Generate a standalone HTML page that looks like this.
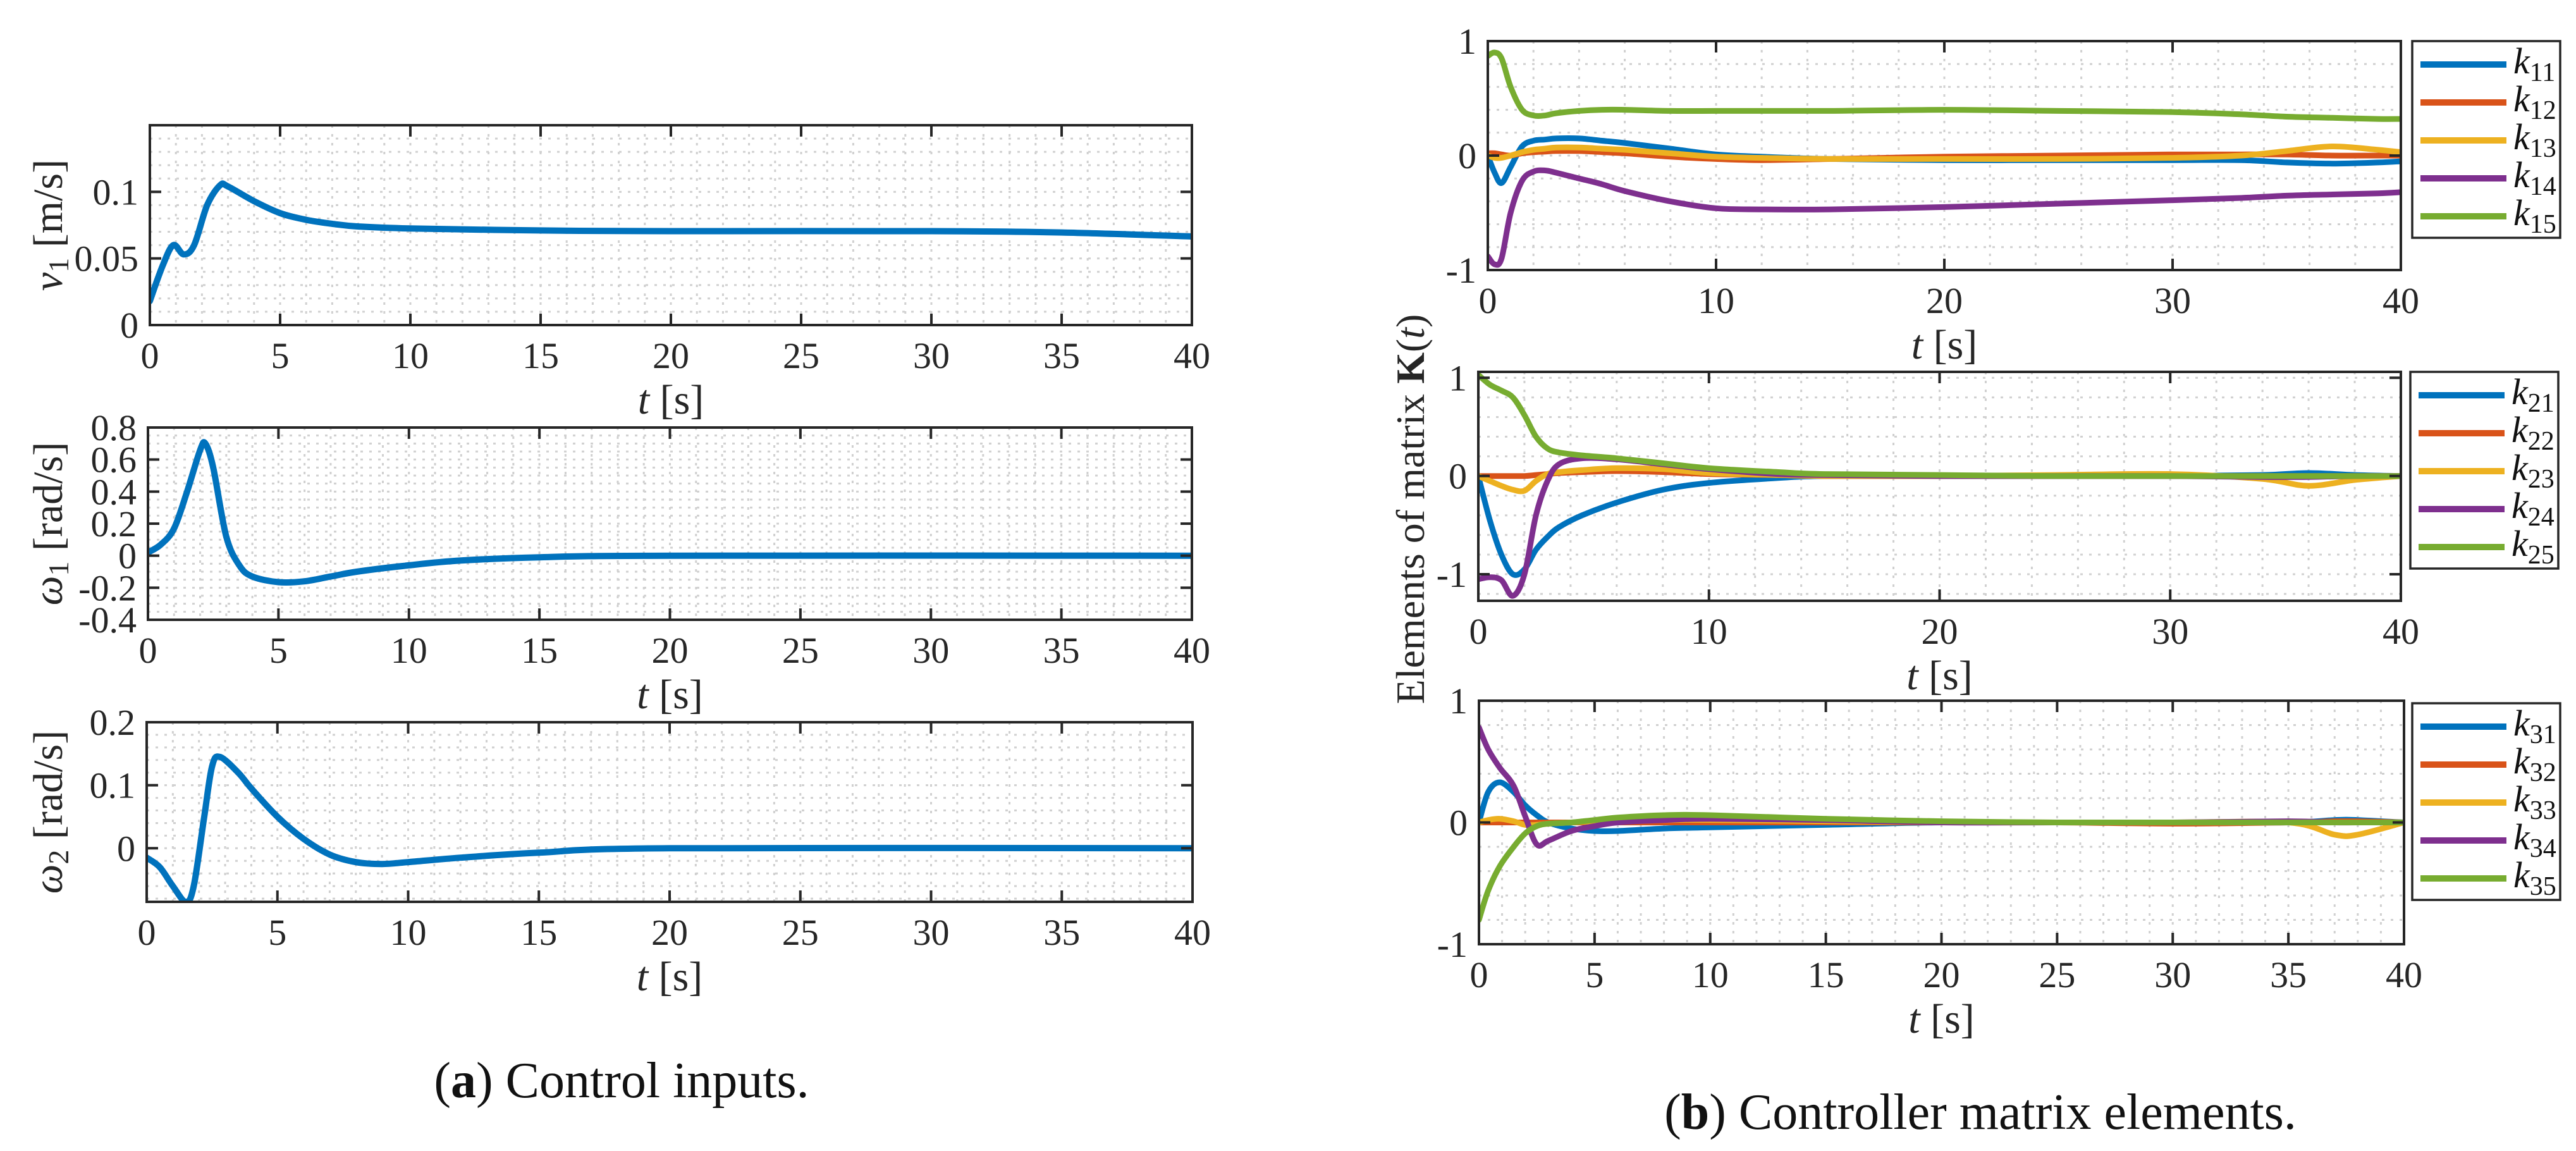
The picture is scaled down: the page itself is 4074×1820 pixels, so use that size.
<!DOCTYPE html>
<html><head><meta charset="utf-8"><style>
html,body{margin:0;padding:0;background:#fff;}
svg{display:block;font-family:"Liberation Serif",serif;}
</style></head><body>
<svg id="fig" width="4074" height="1820" viewBox="0 0 4074 1820" xmlns="http://www.w3.org/2000/svg">
<rect width="4074" height="1820" fill="#fff"/>
<g id="root"></g>
<text x="983" y="1735" font-size="80" text-anchor="middle" fill="#111">(<tspan font-weight="bold">a</tspan>) Control inputs.</text>
<text x="3132" y="1785" font-size="80" text-anchor="middle" fill="#111">(<tspan font-weight="bold">b</tspan>) Controller matrix elements.</text>
<text transform="translate(2252,805) rotate(-90)" font-size="64" text-anchor="middle" fill="#262626">Elements of matrix <tspan font-weight="bold">K</tspan>(<tspan font-style="italic">t</tspan>)</text>
</svg>
<script>
// ---- data ----
const tV1 = [0,0.5,0.9,1.3,1.7,2.2,2.7,3,4,5,6,7,8,10,15,20,30,35,40];
const v1 = [0.018,0.045,0.06,0.053,0.06,0.09,0.105,0.104,0.093,0.084,0.079,0.076,0.074,0.0725,0.071,0.0705,0.0705,0.0695,0.0665];
const tW1 = [0,0.5,1,1.5,2,2.2,2.5,3,3.5,4,5,6,7,8,10,12,15,20,40];
const w1 = [0.02,0.07,0.17,0.4,0.66,0.7,0.55,0.12,-0.06,-0.13,-0.165,-0.16,-0.13,-0.1,-0.06,-0.03,-0.01,0,0];
const tW2 = [0,0.5,1,1.5,1.8,2.2,2.5,2.8,3.5,4,5,6,7,8,9,10,12,15,20,40];
const w2 = [-0.015,-0.03,-0.06,-0.085,-0.06,0.05,0.13,0.145,0.12,0.095,0.05,0.015,-0.01,-0.022,-0.025,-0.022,-0.015,-0.007,0,0];

const tK = [0,0.3,0.6,1,1.5,2,2.5,3,4,5,6,8,10,12,15,20,25,30,33,35,37,39,40];
const k11 = [0,-0.15,-0.24,-0.1,0.08,0.13,0.14,0.15,0.15,0.13,0.11,0.06,0.01,-0.01,-0.03,-0.04,-0.04,-0.04,-0.04,-0.06,-0.07,-0.06,-0.05];
const k12 = [0.02,0.02,0.01,0.0,0.02,0.03,0.035,0.04,0.04,0.03,0.02,-0.01,-0.03,-0.04,-0.03,-0.01,0,0.01,0.01,0.01,0.0,0.0,0.0];
const k13 = [0,-0.02,-0.02,0.0,0.03,0.05,0.06,0.07,0.07,0.06,0.05,0.02,-0.01,-0.02,-0.03,-0.03,-0.03,-0.02,0.0,0.04,0.08,0.05,0.03];
const k14 = [-0.88,-0.95,-0.9,-0.5,-0.22,-0.14,-0.13,-0.15,-0.2,-0.25,-0.31,-0.4,-0.46,-0.47,-0.47,-0.45,-0.42,-0.39,-0.37,-0.35,-0.34,-0.33,-0.32];
const k15 = [0.87,0.9,0.85,0.6,0.4,0.35,0.35,0.37,0.39,0.4,0.4,0.39,0.39,0.39,0.39,0.4,0.39,0.38,0.36,0.34,0.33,0.32,0.32];

const tK2 = [0,0.5,1,1.5,2,2.5,3,3.5,4.5,6,8,10,13,15,20,25,30,34,36,38,40];
const k21 = [0,-0.45,-0.8,-1.0,-0.95,-0.75,-0.62,-0.52,-0.4,-0.27,-0.14,-0.07,-0.02,0,0,0,0,0.01,0.03,0.01,0];
const k22 = [0,0,0,0,0,0.01,0.02,0.03,0.04,0.05,0.04,0.02,0.01,0,0,0,0,0,0,0,0];
const k23 = [0,-0.05,-0.1,-0.14,-0.15,-0.05,0.02,0.04,0.06,0.08,0.07,0.03,0.01,0,0,0.01,0.02,-0.03,-0.1,-0.04,0];
const k24 = [-1.05,-1.03,-1.06,-1.22,-1.0,-0.4,-0.05,0.12,0.18,0.17,0.12,0.07,0.02,0.01,0,0,0,-0.01,-0.01,0,0];
const k25 = [1.03,0.93,0.87,0.8,0.62,0.4,0.28,0.24,0.21,0.18,0.13,0.08,0.04,0.02,0.01,0,0,0,0,0,0];

const tK3 = [0,0.4,0.9,1.5,2,2.5,3,4,5,6,8,10,15,20,25,30,35,37,38,40];
const k31 = [0,0.25,0.33,0.25,0.14,0.06,0.0,-0.05,-0.07,-0.07,-0.05,-0.04,-0.02,0,0,0,0,0.02,0.02,0];
const k32 = [0,0,0,0,0,0,0,0,0,0,0,0,0,0,0,-0.01,0,0.01,0.01,0];
const k33 = [0,0.02,0.03,0.01,-0.02,-0.02,-0.01,0,0.01,0.01,0.02,0.02,0.01,0,0,0,0,-0.1,-0.1,0];
const k34 = [0.78,0.6,0.45,0.3,0.05,-0.18,-0.15,-0.07,-0.03,0,0.02,0.03,0.02,0,0,0,0.01,0,0,0];
const k35 = [-0.8,-0.56,-0.36,-0.2,-0.09,-0.03,-0.01,0.0,0.02,0.04,0.06,0.06,0.03,0.01,0,0,0,0,0,0];

const ticksX8 = [0,5,10,15,20,25,30,35,40];
const ticksX4 = [0,10,20,30,40];
const ticksYv1 = [0,0.05,0.1];
const ticksYw1 = [-0.4,-0.2,0,0.2,0.4,0.6,0.8];
const ticksYw2 = [0,0.1,0.2];
const ticksYK = [-1,0,1];

const C = ['#0072BD','#D95319','#EDB120','#7E2F8E','#77AC30'];
const NS = 'http://www.w3.org/2000/svg';
const root = document.getElementById('root');
function mk(tag, attrs, parent){const e=document.createElementNS(NS,tag);for(const k in attrs)e.setAttribute(k,attrs[k]);(parent||root).appendChild(e);return e;}
function smoothPath(pts){
  let d='M'+pts[0][0].toFixed(1)+','+pts[0][1].toFixed(1);
  for(let i=0;i<pts.length-1;i++){
    const p0=pts[Math.max(0,i-1)],p1=pts[i],p2=pts[i+1],p3=pts[Math.min(pts.length-1,i+2)];
    const c1=[p1[0]+(p2[0]-p0[0])/6,p1[1]+(p2[1]-p0[1])/6];
    const c2=[p2[0]-(p3[0]-p1[0])/6,p2[1]-(p3[1]-p1[1])/6];
    d+=' C'+c1[0].toFixed(1)+','+c1[1].toFixed(1)+' '+c2[0].toFixed(1)+','+c2[1].toFixed(1)+' '+p2[0].toFixed(1)+','+p2[1].toFixed(1);
  }
  return d;
}
function fmt(v){return v<0?'-'+String(-v):String(v);}
function axes(o){
  const g=mk('g',{});
  
  
  const X=t=>o.L+(t-0)/(40)*(o.R-o.L);
  const Y=v=>o.B-(v-o.ymin)/(o.ymax-o.ymin)*(o.B-o.T);
  const grid=mk('g',{stroke:'#d0d0d0','stroke-width':3,'stroke-dasharray':'4 10',fill:'none'},g);
  
  
  for(let t=o.xminor;t<40-1e-9;t+=o.xminor) mk('line',{x1:X(t),x2:X(t),y1:o.T,y2:o.B},grid);
  const s0=Math.ceil((o.ymin+1e-9)/o.yminor);
  for(let k=s0;k*o.yminor<o.ymax-1e-9;k++){const v=k*o.yminor;mk('line',{x1:o.L,x2:o.R,y1:Y(v),y2:Y(v)},grid);}
  const clipId='c'+o.name;
  const cp=mk('clipPath',{id:clipId},g);mk('rect',{x:o.L,y:o.T-2,width:o.R-o.L,height:o.B-o.T+4},cp);
  const lines=mk('g',{'clip-path':'url(#'+clipId+')'},g);
  o.series.forEach((s,i)=>{
    const pts=s.t.map((t,j)=>[X(t),Y(s.v[j])]);
    const p=mk('path',{d:smoothPath(pts),stroke:s.c,'stroke-width':o.lw||10,fill:'none','stroke-linejoin':'round','stroke-linecap':'round'},lines);
    
    
  });
  const fr=mk('rect',{x:o.L,y:o.T,width:o.R-o.L,height:o.B-o.T,fill:'none',stroke:'#262626','stroke-width':4},g);
  
  
  const tl=18;
  o.xticks.forEach(t=>{
    mk('line',{x1:X(t),x2:X(t),y1:o.B,y2:o.B-tl,stroke:'#262626','stroke-width':4},g);
    mk('line',{x1:X(t),x2:X(t),y1:o.T,y2:o.T+tl,stroke:'#262626','stroke-width':4},g);
    const tx=mk('text',{x:X(t),y:o.B+68,'font-size':58,'text-anchor':'middle',fill:'#262626'},g);
    
    
    tx.textContent=String(t);
  });
  o.yticks.forEach(v=>{
    mk('line',{x1:o.L,x2:o.L+tl,y1:Y(v),y2:Y(v),stroke:'#262626','stroke-width':4},g);
    mk('line',{x1:o.R,x2:o.R-tl,y1:Y(v),y2:Y(v),stroke:'#262626','stroke-width':4},g);
    const tx=mk('text',{x:o.L-18,y:Y(v)+20,'font-size':58,'text-anchor':'end',fill:'#262626'},g);
    
    
    tx.textContent=fmt(v);
  });
  const xl=mk('text',{x:(o.L+o.R)/2,y:o.B+140,'font-size':66,'text-anchor':'middle',fill:'#262626'},g);
  
  
  xl.innerHTML='<tspan font-style="italic">t</tspan> [s]';
  if(o.ylabel){
    const yl=mk('text',{transform:'translate('+o.ylx+','+((o.T+o.B)/2)+') rotate(-90)','font-size':66,'text-anchor':'middle',fill:'#262626'},g);
    
    
    yl.innerHTML=o.ylabel;
  }
  if(o.legend){
    const lg=mk('g',{},g);
    
    
    const lx=o.legend.x,ly=o.legend.y;
    mk('rect',{x:lx,y:ly,width:234,height:311,fill:'#fff',stroke:'#262626','stroke-width':3.5},lg);
    o.series.forEach((s,i)=>{
      const yy=ly+37+i*60;
      const e=mk('g',{},lg);
      
      
      mk('line',{x1:lx+13,x2:lx+149,y1:yy,y2:yy,stroke:s.c,'stroke-width':10},e);
      const tx=mk('text',{x:lx+160,y:yy+14,'font-size':58,fill:'#111'},e);
      tx.innerHTML='<tspan font-style="italic">k</tspan><tspan font-size="42" dy="12">'+s.name.slice(1)+'</tspan>';
    });
  }
}
axes({name:'v1-plot',L:237,R:1885,T:198,B:514,ymin:0,ymax:0.15,xminor:1,yminor:0.01,xticks:ticksX8,yticks:ticksYv1,
  ylx:98,ylabel:'<tspan font-style="italic">v</tspan><tspan font-size="46" dy="10">1</tspan><tspan dy="-10"> [m/s]</tspan>',
  series:[{name:'v1',t:tV1,v:v1,c:C[0]}]});
axes({name:'omega1-plot',L:234,R:1885,T:676,B:980,ymin:-0.4,ymax:0.8,xminor:1,yminor:0.05,xticks:ticksX8,yticks:ticksYw1,
  ylx:98,ylabel:'<tspan font-style="italic">ω</tspan><tspan font-size="46" dy="10">1</tspan><tspan dy="-10"> [rad/s]</tspan>',
  series:[{name:'omega1',t:tW1,v:w1,c:C[0]}]});
axes({name:'omega2-plot',L:232,R:1886,T:1142,B:1426,ymin:-0.085,ymax:0.2,xminor:1,yminor:0.02,xticks:ticksX8,yticks:ticksYw2,
  ylx:98,ylabel:'<tspan font-style="italic">ω</tspan><tspan font-size="46" dy="10">2</tspan><tspan dy="-10"> [rad/s]</tspan>',
  series:[{name:'omega2',t:tW2,v:w2,c:C[0]}]});
axes({name:'k1-plot',L:2353,R:3797,T:65,B:427,ymin:-1,ymax:1,xminor:2,yminor:0.2,xticks:ticksX4,yticks:ticksYK,lw:9,
  legend:{x:3815,y:65},
  series:[{name:'k11',t:tK,v:k11,c:C[0]},{name:'k12',t:tK,v:k12,c:C[1]},{name:'k13',t:tK,v:k13,c:C[2]},{name:'k14',t:tK,v:k14,c:C[3]},{name:'k15',t:tK,v:k15,c:C[4]}]});
axes({name:'k2-plot',L:2338,R:3797,T:588,B:950,ymin:-1.27,ymax:1.06,xminor:2,yminor:0.2,xticks:ticksX4,yticks:ticksYK,lw:9,
  legend:{x:3812,y:588},
  series:[{name:'k21',t:tK2,v:k21,c:C[0]},{name:'k22',t:tK2,v:k22,c:C[1]},{name:'k23',t:tK2,v:k23,c:C[2]},{name:'k24',t:tK2,v:k24,c:C[3]},{name:'k25',t:tK2,v:k25,c:C[4]}]});
axes({name:'k3-plot',L:2339,R:3802,T:1108,B:1493,ymin:-1,ymax:1,xminor:1,yminor:0.2,xticks:ticksX8,yticks:ticksYK,lw:9,
  legend:{x:3815,y:1112},
  series:[{name:'k31',t:tK3,v:k31,c:C[0]},{name:'k32',t:tK3,v:k32,c:C[1]},{name:'k33',t:tK3,v:k33,c:C[2]},{name:'k34',t:tK3,v:k34,c:C[3]},{name:'k35',t:tK3,v:k35,c:C[4]}]});
</script>
</body></html>
